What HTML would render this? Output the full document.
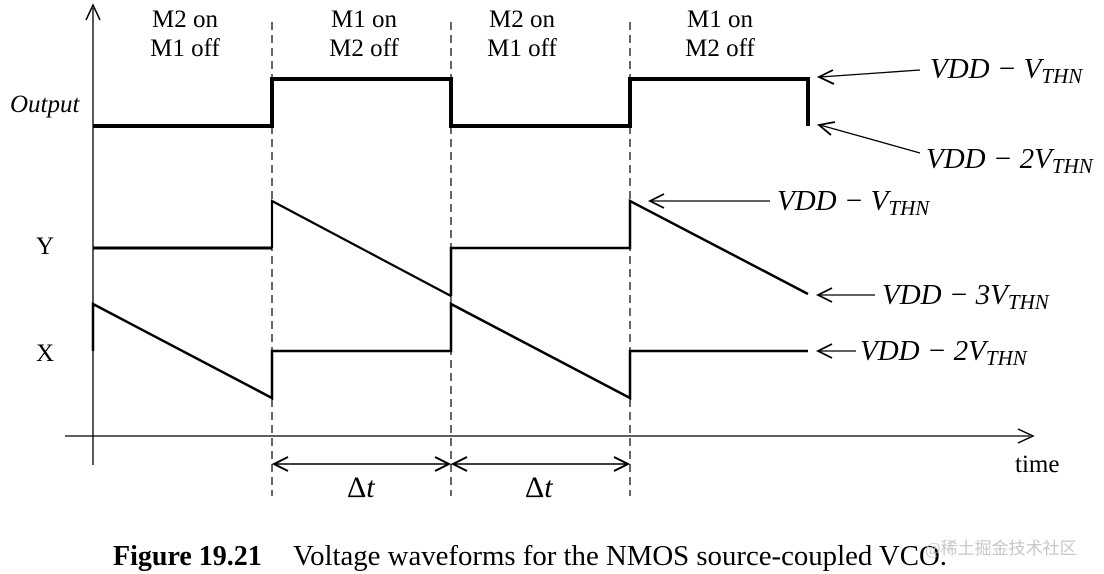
<!DOCTYPE html>
<html><head><meta charset="utf-8"><style>
html,body{margin:0;padding:0;background:#fff;width:1104px;height:574px;overflow:hidden}
svg text{font-family:"Liberation Serif",serif}
</style></head><body>
<svg width="1104" height="574" viewBox="0 0 1104 574" xmlns="http://www.w3.org/2000/svg">
<g stroke="#000" fill="none">
<line x1="93" y1="465" x2="93" y2="8" stroke-width="1.3"/>
<path d="M86,20 L93,5 L100,20" stroke-width="1.5"/>
<line x1="65" y1="436" x2="1030" y2="436" stroke-width="1.3"/>
<path d="M1018,429 L1033,436 L1018,443" stroke-width="1.5"/>
<g stroke-dasharray="8,5" stroke-width="1.2">
<line x1="272" y1="22" x2="272" y2="496"/>
<line x1="451" y1="22" x2="451" y2="496"/>
<line x1="630" y1="22" x2="630" y2="496"/>
</g>
<polyline points="93,126 272,126 272,79 451,79 451,126 630,126 630,79 808,79 808,126" stroke-width="4"/>
<polyline points="93,248 272,248" stroke-width="3"/>
<polyline points="272,248 272,201 451,296" stroke-width="2.2"/>
<polyline points="451,296 451,248 630,248 630,201 808,294" stroke-width="2.5"/>
<polyline points="93,351 93,304 272,398 272,351 451,351 451,304 630,398 630,351 808,351" stroke-width="2.5"/>
<line x1="275" y1="464" x2="448" y2="464" stroke-width="1.5"/>
<path d="M288,457 L274,464 L288,471 M435,457 L449,464 L435,471 M467,457 L453,464 L467,471 M614,457 L628,464 L614,471" stroke-width="2"/>
<line x1="454" y1="464" x2="627" y2="464" stroke-width="1.5"/>
<g stroke-width="1.3">
<line x1="920" y1="70" x2="820" y2="77"/>
<path d="M833,70 L819,77 L834,84" stroke-width="1.8"/>
<line x1="920" y1="153" x2="820" y2="125"/>
<path d="M835,122 L819,125 L831,135" stroke-width="1.8"/>
<line x1="770" y1="201" x2="650" y2="201"/>
<path d="M664,194 L650,201 L664,208" stroke-width="1.8"/>
<line x1="875" y1="295" x2="818" y2="295"/>
<path d="M832,288 L818,295 L832,302" stroke-width="1.8"/>
<line x1="856" y1="351" x2="818" y2="351"/>
<path d="M832,344 L818,351 L832,358" stroke-width="1.8"/>
</g>
</g>
<g font-size="25" fill="#000" text-anchor="middle">
<text x="185" y="27">M2 on</text><text x="185" y="56">M1 off</text>
<text x="364" y="27">M1 on</text><text x="364" y="56">M2 off</text>
<text x="522" y="27">M2 on</text><text x="522" y="56">M1 off</text>
<text x="720" y="27">M1 on</text><text x="720" y="56">M2 off</text>
</g>
<g font-size="29" fill="#000" font-style="italic">
<text x="10" y="112" font-size="25">Output</text>
<text x="930" y="78">VDD − V<tspan font-size="21" dy="5">THN</tspan></text>
<text x="926" y="168">VDD − 2V<tspan font-size="21" dy="5">THN</tspan></text>
<text x="777" y="210">VDD − V<tspan font-size="21" dy="5">THN</tspan></text>
<text x="882" y="304">VDD − 3V<tspan font-size="21" dy="5">THN</tspan></text>
<text x="860" y="360">VDD − 2V<tspan font-size="21" dy="5">THN</tspan></text>
</g>
<g font-size="25" fill="#000">
<text x="36" y="254">Y</text>
<text x="36" y="361">X</text>
<text x="1015" y="472">time</text>
<text x="347" y="497" font-size="30">Δ<tspan font-style="italic">t</tspan></text>
<text x="525" y="497" font-size="30">Δ<tspan font-style="italic">t</tspan></text>
<text x="113" y="565" font-size="28" font-weight="bold">Figure 19.21</text>
<text x="293" y="565" font-size="28.8">Voltage waveforms for the NMOS source-coupled VCO.</text>
</g>
<text x="925" y="554" font-size="17" fill="#c8c8c8" font-family="'Noto Sans CJK SC',sans-serif">@稀土掘金技术社区</text>
</svg>
</body></html>
